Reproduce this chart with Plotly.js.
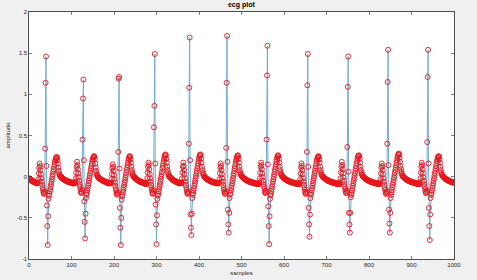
<!DOCTYPE html>
<html>
<head>
<meta charset="utf-8">
<script src="https://cdn.plot.ly/plotly-3.0.1.min.js"></script>
<style>html,body{margin:0;padding:0;background:#f0f0f0;}#chart{width:477px;height:280px;}</style>
</head>
<body>
<div id="chart"></div>
<script>
// ECG amplitude, one array per beat cycle (sample index starts at 1)
var leadIn = [-0.02,-0.03,-0.03,-0.04,-0.04,-0.05,-0.05,-0.05,-0.06,-0.06,-0.06,-0.06,-0.07,-0.07,-0.07,-0.07,-0.08,-0.08,-0.08];

var beat01 = [-0.08,-0.07,-0.03,0.04,0.11,0.16,0.13,0.08,0.03,-0.02,-0.06,-0.10,-0.13,-0.16,-0.19,-0.21,-0.20,-0.18,
  0.34,1.14,1.46,0.13,-0.35,-0.60,-0.83,-0.48,-0.27,
  -0.23,-0.21,-0.18,-0.15,-0.12,-0.09,-0.06,-0.03,0.00,0.03,0.06,0.09,0.12,0.15,0.18,0.20,0.22,0.23,0.24,0.23,0.20,0.16,0.11,0.07,0.04,0.02,0.01,
  0.00,0.00,-0.01,-0.01,-0.02,-0.02,-0.03,-0.03,-0.03,-0.04,-0.04,-0.04,-0.05,-0.05,-0.05,-0.05,-0.06,-0.06,-0.06,-0.06,-0.06,-0.07,-0.07,-0.07,-0.07,-0.07,-0.07,-0.08,-0.08,-0.08,-0.08,-0.08,-0.08,-0.08];

var beat02 = [-0.08,-0.06,-0.02,0.05,0.12,0.18,0.14,0.09,0.04,-0.01,-0.05,-0.09,-0.12,-0.15,-0.18,-0.20,-0.19,-0.16,
  0.45,0.95,1.18,0.20,-0.30,-0.55,-0.75,-0.45,-0.26,
  -0.22,-0.20,-0.17,-0.14,-0.11,-0.08,-0.05,-0.02,0.01,0.04,0.07,0.10,0.13,0.16,0.19,0.21,0.23,0.24,0.25,0.24,0.21,0.16,0.11,0.07,0.04,0.02,0.01,
  0.00,-0.01,-0.01,-0.02,-0.02,-0.03,-0.03,-0.03,-0.04,-0.04,-0.04,-0.05,-0.05,-0.05,-0.05,-0.06,-0.06,-0.06,-0.06,-0.07,-0.07,-0.07,-0.07,-0.07,-0.08,-0.08,-0.08,-0.08,-0.08,-0.08];

var beat03 = [-0.08,-0.07,-0.03,0.03,0.10,0.15,0.12,0.07,0.02,-0.03,-0.07,-0.11,-0.14,-0.17,-0.20,-0.22,-0.21,-0.19,
  0.30,1.19,1.21,0.10,-0.38,-0.62,-0.83,-0.50,-0.28,
  -0.24,-0.22,-0.19,-0.16,-0.13,-0.10,-0.07,-0.04,-0.01,0.02,0.05,0.08,0.11,0.14,0.17,0.20,0.22,0.24,0.25,0.24,0.21,0.17,0.12,0.08,0.05,0.03,0.01,
  0.00,0.00,-0.01,-0.01,-0.02,-0.02,-0.03,-0.03,-0.04,-0.04,-0.04,-0.05,-0.05,-0.05,-0.06,-0.06,-0.06,-0.06,-0.07,-0.07,-0.07,-0.07,-0.07,-0.08,-0.08,-0.08,-0.08,-0.08,-0.09,-0.09];

var beat04 = [-0.09,-0.07,-0.02,0.05,0.12,0.17,0.14,0.09,0.03,-0.02,-0.06,-0.10,-0.13,-0.16,-0.19,-0.21,-0.20,-0.17,
  0.60,0.86,1.49,0.16,-0.34,-0.58,-0.82,-0.47,-0.27,
  -0.23,-0.21,-0.18,-0.15,-0.12,-0.09,-0.06,-0.03,0.00,0.03,0.06,0.10,0.13,0.16,0.19,0.22,0.24,0.26,0.27,0.26,0.22,0.17,0.12,0.08,0.05,0.03,0.01,
  0.00,0.00,-0.01,-0.01,-0.02,-0.02,-0.03,-0.03,-0.04,-0.04,-0.04,-0.05,-0.05,-0.05,-0.06,-0.06,-0.06,-0.06,-0.07,-0.07,-0.07,-0.07,-0.08,-0.08,-0.08,-0.08,-0.08,-0.08];

var beat05 = [-0.08,-0.07,-0.02,0.05,0.12,0.17,0.13,0.08,0.03,-0.02,-0.06,-0.10,-0.13,-0.16,-0.19,-0.21,-0.20,-0.18,
  0.40,1.08,1.69,0.20,-0.46,-0.62,-0.71,-0.45,-0.26,
  -0.22,-0.20,-0.17,-0.14,-0.11,-0.08,-0.05,-0.02,0.01,0.04,0.07,0.10,0.13,0.16,0.19,0.22,0.24,0.26,0.27,0.26,0.22,0.17,0.12,0.08,0.05,0.03,0.02,
  0.00,0.00,-0.01,-0.01,-0.02,-0.02,-0.03,-0.03,-0.03,-0.04,-0.04,-0.04,-0.05,-0.05,-0.05,-0.05,-0.06,-0.06,-0.06,-0.06,-0.06,-0.07,-0.07,-0.07,-0.07,-0.07,-0.07,-0.08,-0.08,-0.08,-0.08,-0.08,-0.08,-0.08];

var beat06 = [-0.08,-0.07,-0.03,0.04,0.11,0.16,0.13,0.08,0.03,-0.02,-0.06,-0.10,-0.13,-0.16,-0.19,-0.21,-0.20,-0.18,
  0.35,1.14,1.71,0.18,-0.40,-0.58,-0.68,-0.44,-0.26,
  -0.22,-0.20,-0.17,-0.14,-0.11,-0.08,-0.05,-0.02,0.01,0.04,0.07,0.10,0.13,0.16,0.19,0.21,0.23,0.25,0.26,0.25,0.22,0.17,0.12,0.08,0.05,0.03,0.02,
  0.01,0.00,0.00,-0.01,-0.01,-0.02,-0.02,-0.03,-0.03,-0.03,-0.04,-0.04,-0.04,-0.05,-0.05,-0.05,-0.05,-0.06,-0.06,-0.06,-0.06,-0.06,-0.07,-0.07,-0.07,-0.07,-0.07,-0.07,-0.08,-0.08,-0.08,-0.08,-0.08,-0.08,-0.08,-0.09,-0.09,-0.09,-0.09,-0.09,-0.09];

var beat07 = [-0.09,-0.07,-0.02,0.05,0.12,0.17,0.14,0.09,0.04,-0.01,-0.05,-0.09,-0.12,-0.15,-0.18,-0.20,-0.19,-0.17,
  0.45,1.23,1.59,0.15,-0.36,-0.60,-0.82,-0.48,-0.27,
  -0.23,-0.21,-0.18,-0.15,-0.12,-0.09,-0.06,-0.03,0.00,0.03,0.06,0.09,0.12,0.15,0.18,0.21,0.23,0.25,0.26,0.25,0.22,0.17,0.12,0.08,0.05,0.03,0.02,
  0.01,0.00,0.00,-0.01,-0.01,-0.02,-0.02,-0.03,-0.03,-0.03,-0.04,-0.04,-0.04,-0.05,-0.05,-0.05,-0.05,-0.06,-0.06,-0.06,-0.06,-0.06,-0.07,-0.07,-0.07,-0.07,-0.07,-0.07,-0.08,-0.08,-0.08,-0.08,-0.08,-0.08,-0.08,-0.09,-0.09,-0.09,-0.09,-0.09,-0.09];

var beat08 = [-0.09,-0.07,-0.03,0.04,0.11,0.16,0.13,0.08,0.03,-0.02,-0.06,-0.10,-0.13,-0.16,-0.19,-0.21,-0.20,-0.18,
  0.30,1.11,1.49,0.12,-0.38,-0.58,-0.73,-0.46,-0.26,
  -0.22,-0.20,-0.17,-0.14,-0.11,-0.08,-0.05,-0.02,0.01,0.04,0.07,0.10,0.13,0.16,0.19,0.21,0.23,0.24,0.25,0.24,0.21,0.17,0.12,0.08,0.05,0.03,0.02,
  0.01,0.00,0.00,-0.01,-0.01,-0.02,-0.02,-0.03,-0.03,-0.03,-0.04,-0.04,-0.04,-0.05,-0.05,-0.05,-0.05,-0.06,-0.06,-0.06,-0.06,-0.06,-0.07,-0.07,-0.07,-0.07,-0.07,-0.07,-0.08,-0.08,-0.08,-0.08,-0.08,-0.08,-0.08,-0.09,-0.09,-0.09,-0.09,-0.09,-0.09];

var beat09 = [-0.09,-0.07,-0.02,0.05,0.12,0.18,0.14,0.09,0.04,-0.01,-0.05,-0.09,-0.12,-0.15,-0.18,-0.20,-0.19,-0.17,
  0.36,1.09,1.46,0.06,-0.44,-0.58,-0.68,-0.44,-0.25,
  -0.22,-0.20,-0.17,-0.14,-0.11,-0.08,-0.05,-0.02,0.01,0.04,0.07,0.10,0.13,0.16,0.19,0.22,0.24,0.25,0.26,0.25,0.22,0.17,0.12,0.08,0.05,0.03,0.02,
  0.01,0.00,0.00,-0.01,-0.01,-0.02,-0.02,-0.03,-0.03,-0.03,-0.04,-0.04,-0.04,-0.05,-0.05,-0.05,-0.05,-0.06,-0.06,-0.06,-0.06,-0.06,-0.07,-0.07,-0.07,-0.07,-0.07,-0.07,-0.08,-0.08,-0.08,-0.08,-0.08,-0.08,-0.08,-0.09,-0.09,-0.09,-0.09,-0.09];

var beat10 = [-0.09,-0.07,-0.03,0.04,0.11,0.16,0.13,0.08,0.03,-0.02,-0.06,-0.10,-0.13,-0.16,-0.19,-0.21,-0.20,-0.18,
  0.40,1.15,1.54,0.14,-0.40,-0.57,-0.68,-0.44,-0.26,
  -0.22,-0.19,-0.16,-0.13,-0.10,-0.07,-0.04,-0.01,0.02,0.05,0.08,0.11,0.14,0.17,0.20,0.23,0.25,0.27,0.28,0.27,0.23,0.18,0.13,0.09,0.06,0.04,0.02,
  0.01,0.00,0.00,-0.01,-0.01,-0.02,-0.02,-0.03,-0.03,-0.03,-0.04,-0.04,-0.04,-0.05,-0.05,-0.05,-0.05,-0.06,-0.06,-0.06,-0.06,-0.06,-0.07,-0.07,-0.07,-0.07,-0.07,-0.07,-0.08,-0.08,-0.08,-0.08,-0.08,-0.08,-0.08,-0.09,-0.09,-0.09,-0.09,-0.09];

var beat11 = [-0.09,-0.07,-0.02,0.05,0.12,0.17,0.14,0.09,0.04,-0.01,-0.05,-0.09,-0.12,-0.15,-0.18,-0.20,-0.19,-0.17,
  0.42,1.21,1.54,0.16,-0.38,-0.60,-0.77,-0.46,-0.26,
  -0.22,-0.20,-0.17,-0.14,-0.11,-0.08,-0.05,-0.02,0.01,0.04,0.07,0.10,0.13,0.16,0.19,0.21,0.23,0.24,0.25,0.24,0.21,0.17,0.12,0.08,0.05,0.03,0.02,
  0.01,0.00,0.00,-0.01,-0.01,-0.02,-0.02,-0.03,-0.03,-0.03,-0.04,-0.04,-0.04,-0.05,-0.05,-0.05,-0.05,-0.06,-0.06,-0.06,-0.06,-0.06,-0.07,-0.07,-0.07,-0.07,-0.07,-0.07];

var xTickVals = [0,100,200,300,400,500,600,700,800,900,1000];
var xTickText = ['0','100','200','300','400','500','600','700','800','900','1000'];
var yTickVals = [-1,-0.5,0,0.5,1,1.5,2];
var yTickText = ['-1','-0.5','0','0.5','1','1.5','2'];

var amplitude = [].concat(leadIn, beat01, beat02, beat03, beat04, beat05, beat06, beat07, beat08, beat09, beat10, beat11);

var font = 'Liberation Sans, Arial, Helvetica, sans-serif';
var axisColor = '#262626';

var traces = [
  {type:'scatter', mode:'lines', y:amplitude, x0:1, dx:1,
   line:{color:'#72acd4', width:1}, hoverinfo:'skip'},
  {type:'scatter', mode:'markers', y:amplitude, x0:1, dx:1,
   marker:{symbol:'circle-open', size:5, color:'#e8141a', line:{width:0.9, color:'#e8141a'}}, hoverinfo:'skip'}
];

var layout = {
  width:477, height:280,
  paper_bgcolor:'#f0f0f0', plot_bgcolor:'#ffffff',
  margin:{l:29, r:23, t:12, b:21, pad:0},
  showlegend:false,
  font:{family:font, size:6, color:axisColor},
  title:{text:'<b>ecg plot</b>', font:{family:font, size:7, color:'#000000'},
         x:0.506, xanchor:'center', xref:'container', y:0.982, yanchor:'middle', yref:'container'},
  xaxis:{range:[0,1000], tickvals:xTickVals, ticktext:xTickText, ticks:'inside', ticklen:3, tickwidth:0.6,
         tickcolor:axisColor, showline:true, linecolor:axisColor, linewidth:0.8, mirror:'allticks',
         showgrid:false, zeroline:false, tickfont:{family:font, size:6, color:axisColor},
         title:{text:'samples', font:{family:font, size:6, color:axisColor}, standoff:3}},
  yaxis:{range:[-1,2], tickvals:yTickVals, ticktext:yTickText, ticks:'inside', ticklen:3, tickwidth:0.6,
         tickcolor:axisColor, showline:true, linecolor:axisColor, linewidth:0.8, mirror:'allticks',
         showgrid:false, zeroline:false, tickfont:{family:font, size:6, color:axisColor},
         title:{text:'amplitude', font:{family:font, size:6, color:axisColor}, standoff:5}}
};

Plotly.newPlot('chart', traces, layout, {staticPlot:true, displayModeBar:false});
</script>
</body>
</html>
